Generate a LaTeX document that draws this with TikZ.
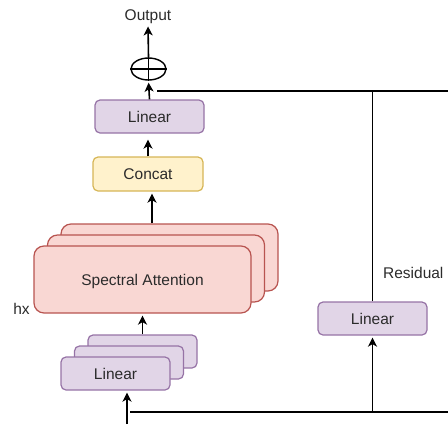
\documentclass[tikz,border=0pt]{standalone}
\usepackage{fontspec}
\setmainfont{Liberation Sans}
\usetikzlibrary{arrows.meta,shapes.geometric,calc}
\definecolor{purfill}{HTML}{E1D5E7}
\definecolor{purline}{HTML}{9673A6}
\definecolor{yelfill}{HTML}{FFF2CC}
\definecolor{yelline}{HTML}{D6B656}
\definecolor{redfill}{HTML}{F9D7D3}
\definecolor{redline}{HTML}{B85450}
\definecolor{txt}{HTML}{2B2B2B}
\begin{document}
\begin{tikzpicture}[x=1pt,y=-1pt,
  lbl/.style={font=\fontsize{15.5}{18}\selectfont, text=txt, inner sep=1pt},
  box/.style={lbl, draw, rounded corners=5pt, line width=1.2pt, inner sep=0pt,
              minimum width=109pt, minimum height=33pt, text height=11pt, text depth=0pt},
  linbox/.style={box, draw=purline, fill=purfill},
  catbox/.style={box, draw=yelline, fill=yelfill, minimum width=110pt, minimum height=34pt},
  attbox/.style={box, draw=redline, fill=redfill, rounded corners=10pt,
                 minimum width=217pt, minimum height=67pt},
  arr/.style={line width=1.6pt, -{Stealth[length=9pt,width=9pt,inset=2.5pt]}, shorten >=2pt},
  wire/.style={line width=1.3pt}
]
\useasboundingbox (0,0) rectangle (448,424);

% output sum
\node[lbl, anchor=base] (out) at (148,20) {Output};
\node[draw, ellipse, line width=1.4pt, minimum width=35pt, minimum height=22pt, inner sep=0pt] (sum) at (148.5,69) {};
\draw[line width=1.4pt] (sum.north) -- (sum.south);
\draw[line width=1.4pt] (sum.west) -- (sum.east);

% main column
\node[linbox] (lin) at (149.5,116.5) {Linear};
\node[catbox] (cat) at (148,174) {Concat};

% stacked attention heads
\node[attbox] (spc) at (169.5,257.5) {};
\node[attbox] (spb) at (156,268.5) {};
\node[attbox] (spa) at (142.5,279.5) {Spectral Attention};

% stacked input projections
\node[linbox] (lic) at (142.5,351.5) {};
\node[linbox] (lib) at (129,362.5) {};
\node[linbox] (lia) at (115.5,373.5) {Linear};

% residual branch
\node[linbox] (res) at (372.5,318.5) {Linear};
\node[lbl, anchor=base] (reslbl) at (413.3,278.3) {Residual};
\node[lbl, anchor=base] (hx) at (21.5,314) {hx};

% connectors
\coordinate (in) at (127,424);
\coordinate (inr) at (130,412);
\coordinate (bot) at (448,412);
\coordinate (join) at (157,91);
\coordinate (top) at (448,91);

\draw[arr] (in) -- (in |- lia.south);
\draw[arr] (lic.north) -- (lic.north |- spa.south);
\draw[arr] ([xshift=4pt]cat.south |- spc.north) -- ([xshift=4pt]cat.south);
\draw[arr, shorten >=6pt] (cat.north) -- (cat.north |- lin.south);
\draw[arr] (lin.north) -- (sum.south);
\draw[arr] (sum.north) -- (out.south);

\draw[wire] (inr) -- (bot);
\draw[arr] (res.south |- bot) -- (res.south);
\draw[wire] (res.north) -- (res.north |- top);
\draw[wire] (join) -- (top);
\end{tikzpicture}
\end{document}
